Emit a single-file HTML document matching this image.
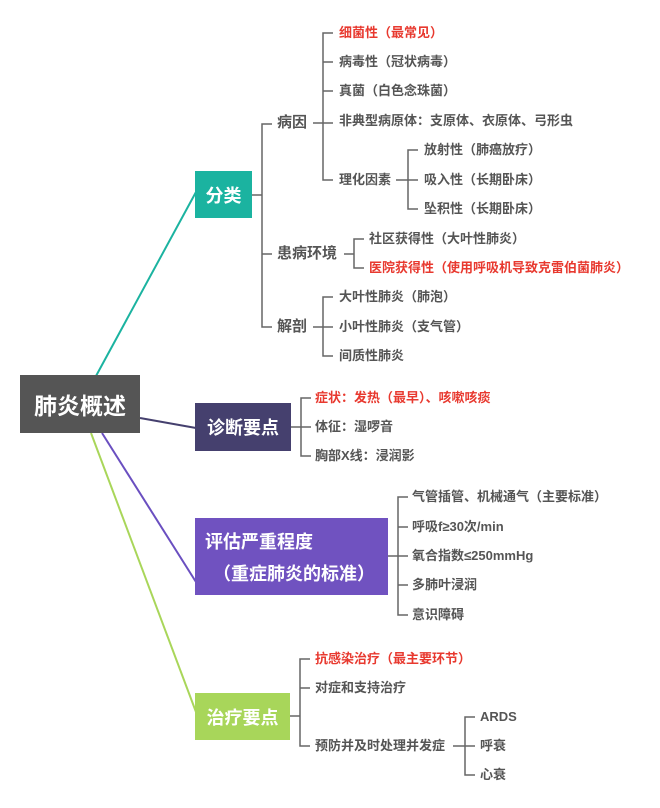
<!DOCTYPE html>
<html><head><meta charset="utf-8"><style>
html,body{margin:0;padding:0;background:#fff;}
body{width:660px;height:808px;position:relative;overflow:hidden;font-family:"Liberation Sans","Noto Sans CJK SC",sans-serif;}
.t{position:absolute;font-size:13px;color:#555;line-height:18px;height:18px;white-space:nowrap;font-weight:bold;}
.r{color:#e8392f;}
.m{font-size:15px;line-height:20px;height:20px;}
.box{position:absolute;color:#fff;font-weight:bold;display:flex;align-items:center;justify-content:center;white-space:nowrap;}
svg{position:absolute;left:0;top:0;}
</style></head><body>
<svg width="660" height="808">
<g fill="none" stroke-width="2">
<line x1="96" y1="376" x2="196" y2="192" stroke="#1bb3a0"/>
<line x1="140" y1="418" x2="196" y2="428" stroke="#45406e"/>
<line x1="102" y1="433" x2="196" y2="582" stroke="#6a4fc0"/>
<line x1="91" y1="433" x2="196" y2="712" stroke="#a9d65a"/>
</g>
<g fill="none" stroke="#666" stroke-width="1.5">
<!-- 分类 -->
<path d="M252 195H262M272 124H262V327H272M262 254H272"/>
<path d="M313 123H323M333 33H323V180H333M323 62H333M323 91H333M323 123H333"/>
<path d="M396 180H408M418 150H408V209H418M408 180H418"/>
<path d="M344 254H354M364 239H354V268H364"/>
<path d="M313 327H323M333 297H323V356H333M323 327H333"/>
<!-- 诊断 -->
<path d="M291 427H301M311 398H301V456H311M301 427H311"/>
<!-- 评估 -->
<path d="M388 556H398M408 497H398V615H408M398 527H408M398 556H408M398 585H408"/>
<!-- 治疗 -->
<path d="M290 716H300M310 659H300V746H310M300 688H310"/>
<path d="M453 746H465M475 717H465V775H475M465 746H475"/>
</g>
</svg>
<div class="box" style="left:20px;top:375px;width:120px;height:58px;background:#555;font-size:23px;">肺炎概述</div>
<div class="box" style="left:195px;top:171px;width:57px;height:47px;background:#1bb3a0;font-size:18px;">分类</div>
<div class="box" style="left:195px;top:403px;width:96px;height:48px;background:#45406e;font-size:18px;">诊断要点</div>
<div class="box" style="left:195px;top:518px;width:193px;height:77px;background:#7052c0;font-size:18px;display:block;">
<div style="position:absolute;left:10px;top:13px;line-height:22px;">评估严重程度</div>
<div style="position:absolute;left:18px;top:45px;line-height:22px;">（重症肺炎的标准）</div></div>
<div class="box" style="left:195px;top:693px;width:95px;height:47px;background:#a8d65a;font-size:18px;">治疗要点</div>

<div class="t m" style="left:277px;top:113px;">病因</div>
<div class="t m" style="left:277px;top:244px;">患病环境</div>
<div class="t m" style="left:277px;top:317px;">解剖</div>

<div class="t r" style="left:339px;top:24px;">细菌性（最常见）</div>
<div class="t" style="left:339px;top:53px;">病毒性（冠状病毒）</div>
<div class="t" style="left:339px;top:82px;">真菌（白色念珠菌）</div>
<div class="t" style="left:339px;top:112px;">非典型病原体：支原体、衣原体、弓形虫</div>
<div class="t" style="left:339px;top:171px;">理化因素</div>
<div class="t" style="left:424px;top:141px;">放射性（肺癌放疗）</div>
<div class="t" style="left:424px;top:171px;">吸入性（长期卧床）</div>
<div class="t" style="left:424px;top:200px;">坠积性（长期卧床）</div>
<div class="t" style="left:369px;top:230px;">社区获得性（大叶性肺炎）</div>
<div class="t r" style="left:369px;top:259px;">医院获得性（使用呼吸机导致克雷伯菌肺炎）</div>
<div class="t" style="left:339px;top:288px;">大叶性肺炎（肺泡）</div>
<div class="t" style="left:339px;top:318px;">小叶性肺炎（支气管）</div>
<div class="t" style="left:339px;top:347px;">间质性肺炎</div>

<div class="t r" style="left:315px;top:389px;">症状：发热（最早）、咳嗽咳痰</div>
<div class="t" style="left:315px;top:418px;">体征：湿啰音</div>
<div class="t" style="left:315px;top:447px;">胸部X线：浸润影</div>

<div class="t" style="left:412px;top:488px;">气管插管、机械通气（主要标准）</div>
<div class="t" style="left:412px;top:518px;">呼吸f≥30次/min</div>
<div class="t" style="left:412px;top:547px;">氧合指数≤250mmHg</div>
<div class="t" style="left:412px;top:576px;">多肺叶浸润</div>
<div class="t" style="left:412px;top:606px;">意识障碍</div>

<div class="t r" style="left:315px;top:650px;">抗感染治疗（最主要环节）</div>
<div class="t" style="left:315px;top:679px;">对症和支持治疗</div>
<div class="t" style="left:315px;top:737px;">预防并及时处理并发症</div>
<div class="t" style="left:480px;top:708px;">ARDS</div>
<div class="t" style="left:480px;top:737px;">呼衰</div>
<div class="t" style="left:480px;top:766px;">心衰</div>
</body></html>
